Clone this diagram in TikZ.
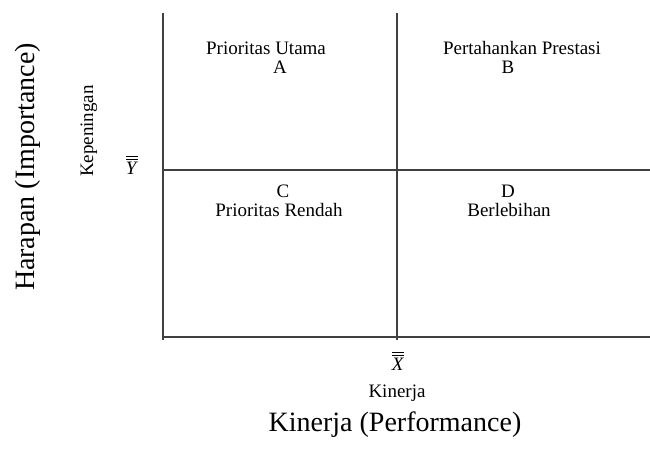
\documentclass[tikz,border=0pt]{standalone}
\usepackage{fontspec}
\setmainfont{Liberation Serif}
\newcommand{\dblbar}[1]{{\setbox0\hbox{\textit{#1}}\vbox{\hrule width\wd0 height .8pt\vskip1.8pt\hrule width\wd0 height .8pt\vskip2.2pt\box0}}}
\begin{document}
\begin{tikzpicture}[x=1pt,y=-1pt,
  axisline/.style={draw=black!75,line width=1.3pt},
  small/.style={font=\fontsize{19}{22}\selectfont,inner sep=0pt},
  big/.style={font=\fontsize{28}{32}\selectfont,inner sep=0pt}]
\useasboundingbox (0,0) rectangle (650,449);
\coordinate (tl) at (163,13);
\coordinate (bl) at (163,340);
\coordinate (br) at (650,337);
\coordinate (bl2) at (163,337);
\coordinate (mt) at (397,13);
\coordinate (mb) at (397,340);
\coordinate (ml) at (163,170);
\coordinate (mr) at (650,170);
\draw[axisline] (tl) -- (bl);
\draw[axisline] (bl2) -- (br);
\draw[axisline] (mt) -- (mb);
\draw[axisline] (ml) -- (mr);
\node[small] (pu) at (266,48) {Prioritas Utama};
\node[small] (a) at (280,67) {A};
\node[small] (pp) at (522,48) {Pertahankan Prestasi};
\node[small] (b) at (508,67) {B};
\node[small] (c) at (283,191) {C};
\node[small] (pr) at (279,210) {Prioritas Rendah};
\node[small] (d) at (508,191) {D};
\node[small] (bh) at (509,210) {Berlebihan};
\node[small,rotate=90] (kp) at (89,131) {Kepeningan};
\node[small] (yb) at (132,165) {\dblbar{Y}};
\node[small] (xb) at (398,361) {\dblbar{X}};
\node[small] (kn) at (397,393) {Kinerja};
\node[big,rotate=90] (hi) at (28,167) {Harapan (Importance)};
\node[big] (kperf) at (395,425) {Kinerja (Performance)};
\end{tikzpicture}
\end{document}
